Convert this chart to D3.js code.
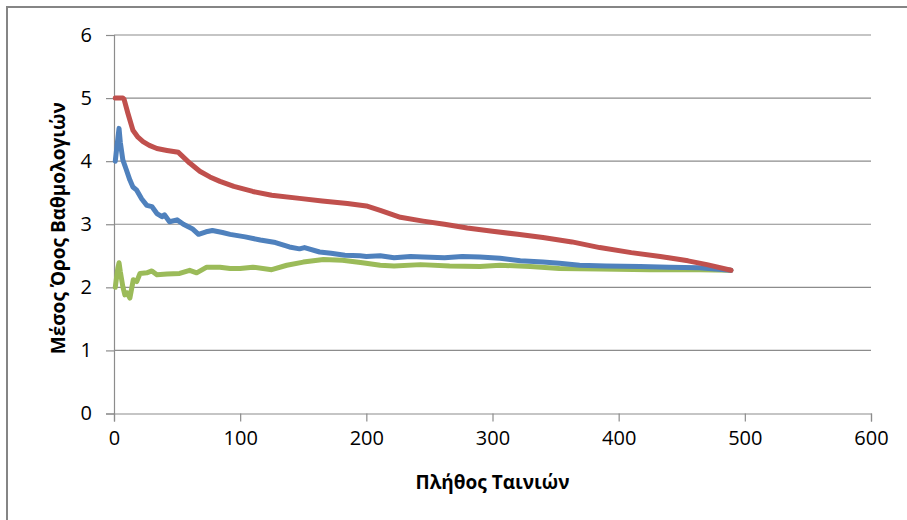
<!DOCTYPE html>
<html>
<head>
<meta charset="utf-8">
<script src="https://cdn.jsdelivr.net/npm/d3@7"></script>
<style>
  html, body { margin: 0; padding: 0; background: #fff; }
  svg { display: block; }
  text { font-family: "Open Sans", "Noto Sans", sans-serif; fill: #000; }
</style>
</head>
<body>
<svg id="chart" width="907" height="520"></svg>
<script>
// Number of movies (x) and mean rating (y) for each of the three curves
const upperCount = [1, 7, 8, 11, 15, 19, 23, 28, 34, 42, 51, 60, 68, 76, 84, 95, 110, 125, 147, 165, 185, 200, 211, 227, 245, 262, 280, 300, 320, 340, 363, 385, 410, 433, 455, 470, 489];
const upperMean  = [5.0, 5.0, 4.98, 4.76, 4.49, 4.38, 4.31, 4.25, 4.2, 4.17, 4.14, 3.97, 3.84, 3.75, 3.68, 3.6, 3.52, 3.46, 3.41, 3.37, 3.33, 3.29, 3.22, 3.11, 3.05, 3.0, 2.94, 2.89, 2.84, 2.79, 2.72, 2.63, 2.55, 2.49, 2.42, 2.36, 2.27];

const middleCount = [1, 3, 4, 5, 7, 9.5, 12.6, 15, 18, 22, 26, 30, 34, 38, 40, 44, 50, 55, 62, 67, 73, 78, 86, 92, 104, 116, 128, 139, 147, 151, 163, 172, 183, 195, 200, 211, 222, 235, 245, 262, 276, 290, 306, 322, 340, 353, 369, 390, 417, 440, 464, 489];
const middleMean  = [4.0, 4.35, 4.52, 4.3, 4.02, 3.88, 3.7, 3.59, 3.54, 3.4, 3.3, 3.28, 3.17, 3.12, 3.15, 3.04, 3.07, 3.0, 2.93, 2.84, 2.88, 2.9, 2.87, 2.84, 2.8, 2.75, 2.71, 2.64, 2.61, 2.63, 2.56, 2.54, 2.51, 2.5, 2.49, 2.5, 2.47, 2.49, 2.48, 2.47, 2.49, 2.48, 2.46, 2.42, 2.4, 2.38, 2.35, 2.34, 2.33, 2.32, 2.31, 2.27];

const lowerCount = [1, 3, 4, 5, 7, 8.6, 10.5, 12.6, 15.3, 18, 20.6, 26, 30, 34, 42, 52, 60, 65.5, 73.5, 84, 92, 100, 110, 125, 137, 150, 166, 181, 197, 211, 222, 243, 266, 290, 306, 330, 353, 385, 425, 464, 489];
const lowerMean  = [2.0, 2.3, 2.39, 2.25, 2.01, 1.88, 1.91, 1.83, 2.12, 2.09, 2.22, 2.23, 2.26, 2.2, 2.21, 2.22, 2.27, 2.23, 2.32, 2.32, 2.3, 2.3, 2.32, 2.28, 2.35, 2.4, 2.44, 2.43, 2.39, 2.35, 2.34, 2.36, 2.34, 2.33, 2.35, 2.33, 2.3, 2.29, 2.28, 2.28, 2.27];

const xTicks = [0, 100, 200, 300, 400, 500, 600];
const yTicks = [0, 1, 2, 3, 4, 5, 6];

const xTitle = "Πλήθος Ταινιών";
const yTitle = "Μέσος Όρος Βαθμολογιών";

const seriesList = [
  { count: lowerCount,  mean: lowerMean,  color: "#9BBB59" },
  { count: middleCount, mean: middleMean, color: "#4F81BD" },
  { count: upperCount,  mean: upperMean,  color: "#C0504D" }
];

const svg = d3.select("#chart");
const plot = { left: 114, right: 871, top: 35, bottom: 413.5 };
const gridColor = "#8c8c8c";

// Outer chart frame
svg.append("rect")
  .attr("x", 7).attr("y", 7)
  .attr("width", 920).attr("height", 540)
  .attr("fill", "none").attr("stroke", "#858585").attr("stroke-width", 2);

const x = d3.scaleLinear().domain([0, 600]).range([plot.left, plot.right]);
const y = d3.scaleLinear().domain([0, 6]).range([plot.bottom, plot.top]);

// Horizontal gridlines
svg.append("g")
  .selectAll("line")
  .data(yTicks.filter(d => d > 0))
  .join("line")
  .attr("x1", plot.left).attr("x2", plot.right)
  .attr("y1", d => y(d)).attr("y2", d => y(d))
  .attr("stroke", gridColor).attr("stroke-width", 1.2);

// Y axis
const yAxis = svg.append("g")
  .attr("transform", `translate(${plot.left},0)`)
  .call(d3.axisLeft(y).tickValues(yTicks).tickFormat(d3.format("d")).tickSize(8).tickPadding(14));

// X axis
const xAxis = svg.append("g")
  .attr("transform", `translate(0,${plot.bottom})`)
  .call(d3.axisBottom(x).tickValues(xTicks).tickFormat(d3.format("d")).tickSize(8).tickPadding(9));

[yAxis, xAxis].forEach(ax => {
  ax.select(".domain").attr("stroke", gridColor).attr("stroke-width", 1.2);
  ax.selectAll(".tick line").attr("stroke", gridColor).attr("stroke-width", 1.2);
  ax.selectAll(".tick text")
    .style("font-family", "'Open Sans', 'Noto Sans', sans-serif")
    .style("font-size", "20px")
    .attr("fill", "#222");
});

// Curves
const line = d3.line()
  .x(d => x(d[0]))
  .y(d => y(d[1]));

seriesList.forEach(s => {
  const pts = s.count.map((c, i) => [c, s.mean[i]]);
  svg.append("path")
    .datum(pts)
    .attr("d", line)
    .attr("fill", "none")
    .attr("stroke", s.color)
    .attr("stroke-width", 5)
    .attr("stroke-linejoin", "round")
    .attr("stroke-linecap", "round");
});

// Axis titles
svg.append("text")
  .attr("x", (plot.left + plot.right) / 2)
  .attr("y", 489)
  .attr("text-anchor", "middle")
  .style("font-size", "19px")
  .style("font-weight", "bold")
  .text(xTitle);

svg.append("text")
  .attr("transform", `translate(65,${(plot.top + plot.bottom) / 2 + 4}) rotate(-90)`)
  .attr("text-anchor", "middle")
  .style("font-size", "19px")
  .style("font-weight", "bold")
  .text(yTitle);
</script>
</body>
</html>
